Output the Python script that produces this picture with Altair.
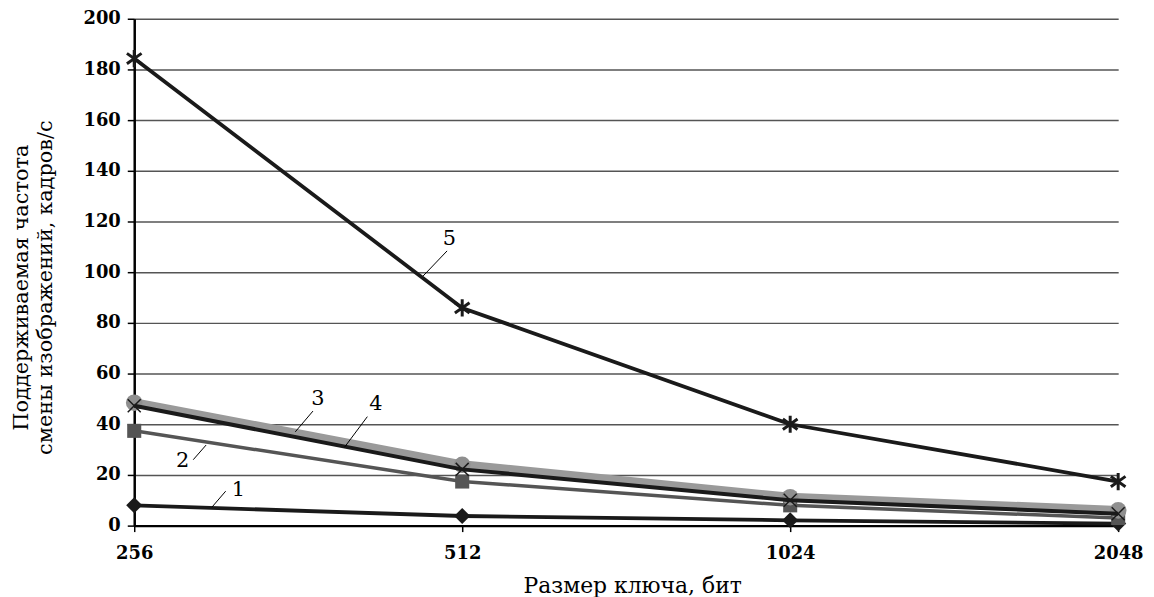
import altair as alt
import pandas as pd

# ---- data ----
keys = [256, 512, 1024, 2048]
series1 = [8.0, 3.8, 2.1, 0.8]      # diamonds
series2 = [37.4, 17.4, 8.0, 3.0]    # squares
series3 = [48.5, 24.0, 11.2, 6.0]   # thick grey, circles
series4 = [47.3, 22.2, 10.0, 4.7]   # black, x-marks
series5 = [184.3, 85.9, 40.0, 17.4] # asterisks

y_ticks = [0, 20, 40, 60, 80, 100, 120, 140, 160, 180, 200]

# callout labels (data units: key size, value)
label_text = ["1", "2", "3", "4", "5"]
label_x = [319.1, 283.6, 377.4, 426.7, 498.3]
label_y = [13.9, 25.3, 50.0, 48.0, 112.9]
leader_x = [301.7, 290.0, 359.8, 399.2, 471.4]
leader_y = [7.3, 26.0, 37.0, 30.9, 98.5]
leader_x2 = [310.6, 298.0, 373.5, 419.0, 495.9]
leader_y2 = [13.6, 31.8, 45.2, 43.0, 108.4]

FONT = "'DejaVu Serif', 'Liberation Serif', serif"

rows = []
for name, vals in [("1", series1), ("2", series2), ("3", series3), ("4", series4), ("5", series5)]:
    for k, v in zip(keys, vals):
        rows.append({"series": name, "key": k, "value": v})
df = pd.DataFrame(rows)

ann = pd.DataFrame({
    "text": label_text, "tx": label_x, "ty": label_y,
    "lx": leader_x, "ly": leader_y, "lx2": leader_x2, "ly2": leader_y2,
})

x_scale = alt.Scale(type="log", base=2, domain=[256, 2048], nice=False)
y_scale = alt.Scale(domain=[0, 200], nice=False, zero=True)

x_axis = alt.Axis(
    values=keys, format="d", title="Размер ключа, бит",
    labelFont=FONT, labelFontWeight="bold", labelFontSize=18, labelColor="black",
    labelFlush=False, labelPadding=13, labelOverlap=False,
    tickSize=6, tickColor="black", tickWidth=1.5,
    domainColor="black", domainWidth=2.5, grid=False,
    titleFont=FONT, titleFontWeight="normal", titleFontSize=22, titleColor="black",
    titlePadding=13, titleX=501, titleAlign="center",
)
y_axis = alt.Axis(
    values=y_ticks, title=["Поддерживаемая частота", "смены изображений, кадров/с"],
    labelFont=FONT, labelFontWeight="bold", labelFontSize=18, labelColor="black",
    labelPadding=7, tickSize=7, tickColor="black", tickWidth=1.5,
    domainColor="black", domainWidth=2.5,
    grid=True, gridColor="#555555", gridWidth=1.5,
    titleFont=FONT, titleFontWeight="normal", titleFontSize=21, titleColor="black",
    titleAngle=-90, titleAlign="center", titleBaseline="top",
    titleX=-124, titleY=270, titleLineHeight=24,
)

X = alt.X("key:Q", scale=x_scale, axis=x_axis)
Y = alt.Y("value:Q", scale=y_scale, axis=y_axis)

base = alt.Chart(df)

def line(name, color, width):
    return base.transform_filter(alt.datum.series == name).mark_line(
        color=color, strokeWidth=width, strokeJoin="round"
    ).encode(x=X, y=Y)

def points(name, **kw):
    return base.transform_filter(alt.datum.series == name).mark_point(**kw).encode(x=X, y=Y)

X_PATH = "M-1,-1L1,1M-1,1L1,-1"
AST_PATH = "M0,-1L0,1M-0.85,-0.6L0.85,0.6M-0.85,0.6L0.85,-0.6"

layers = [
    line("5", "#1a1a1a", 3.8),
    line("1", "#1a1a1a", 3.8),
    points("1", shape="diamond", filled=True, color="#1a1a1a", size=260, opacity=1),
    line("2", "#555555", 3.5),
    points("2", shape="square", filled=True, color="#555555", size=200, opacity=1),
    line("3", "#9a9a9a", 9),
    points("3", shape="circle", filled=True, color="#8f8f8f", size=280, opacity=1),
    line("4", "#1a1a1a", 4),
    points("4", shape=X_PATH, filled=False, color="#1a1a1a", size=170, strokeWidth=1.5, opacity=1),
    points("5", shape=AST_PATH, filled=False, color="#1a1a1a", size=300, strokeWidth=3, opacity=1),
]

leaders = alt.Chart(ann).mark_rule(color="black", strokeWidth=1).encode(
    x=alt.X("lx:Q", scale=x_scale, axis=x_axis),
    y=alt.Y("ly:Q", scale=y_scale, axis=y_axis),
    x2="lx2:Q", y2="ly2:Q",
)
texts = alt.Chart(ann).mark_text(
    font=FONT, fontSize=21, color="black", align="center", baseline="middle"
).encode(
    x=alt.X("tx:Q", scale=x_scale, axis=x_axis),
    y=alt.Y("ty:Q", scale=y_scale, axis=y_axis),
    text="text:N",
)

chart = alt.layer(*layers, leaders, texts).properties(
    width=990, height=510,
    autosize=alt.AutoSizeParams(type="none"),
    padding={"left": 127, "top": 9, "right": 28, "bottom": 70},
    background="white",
).configure_view(stroke=None)

chart.save("out.html", embed_options={"renderer": "svg", "actions": False})
